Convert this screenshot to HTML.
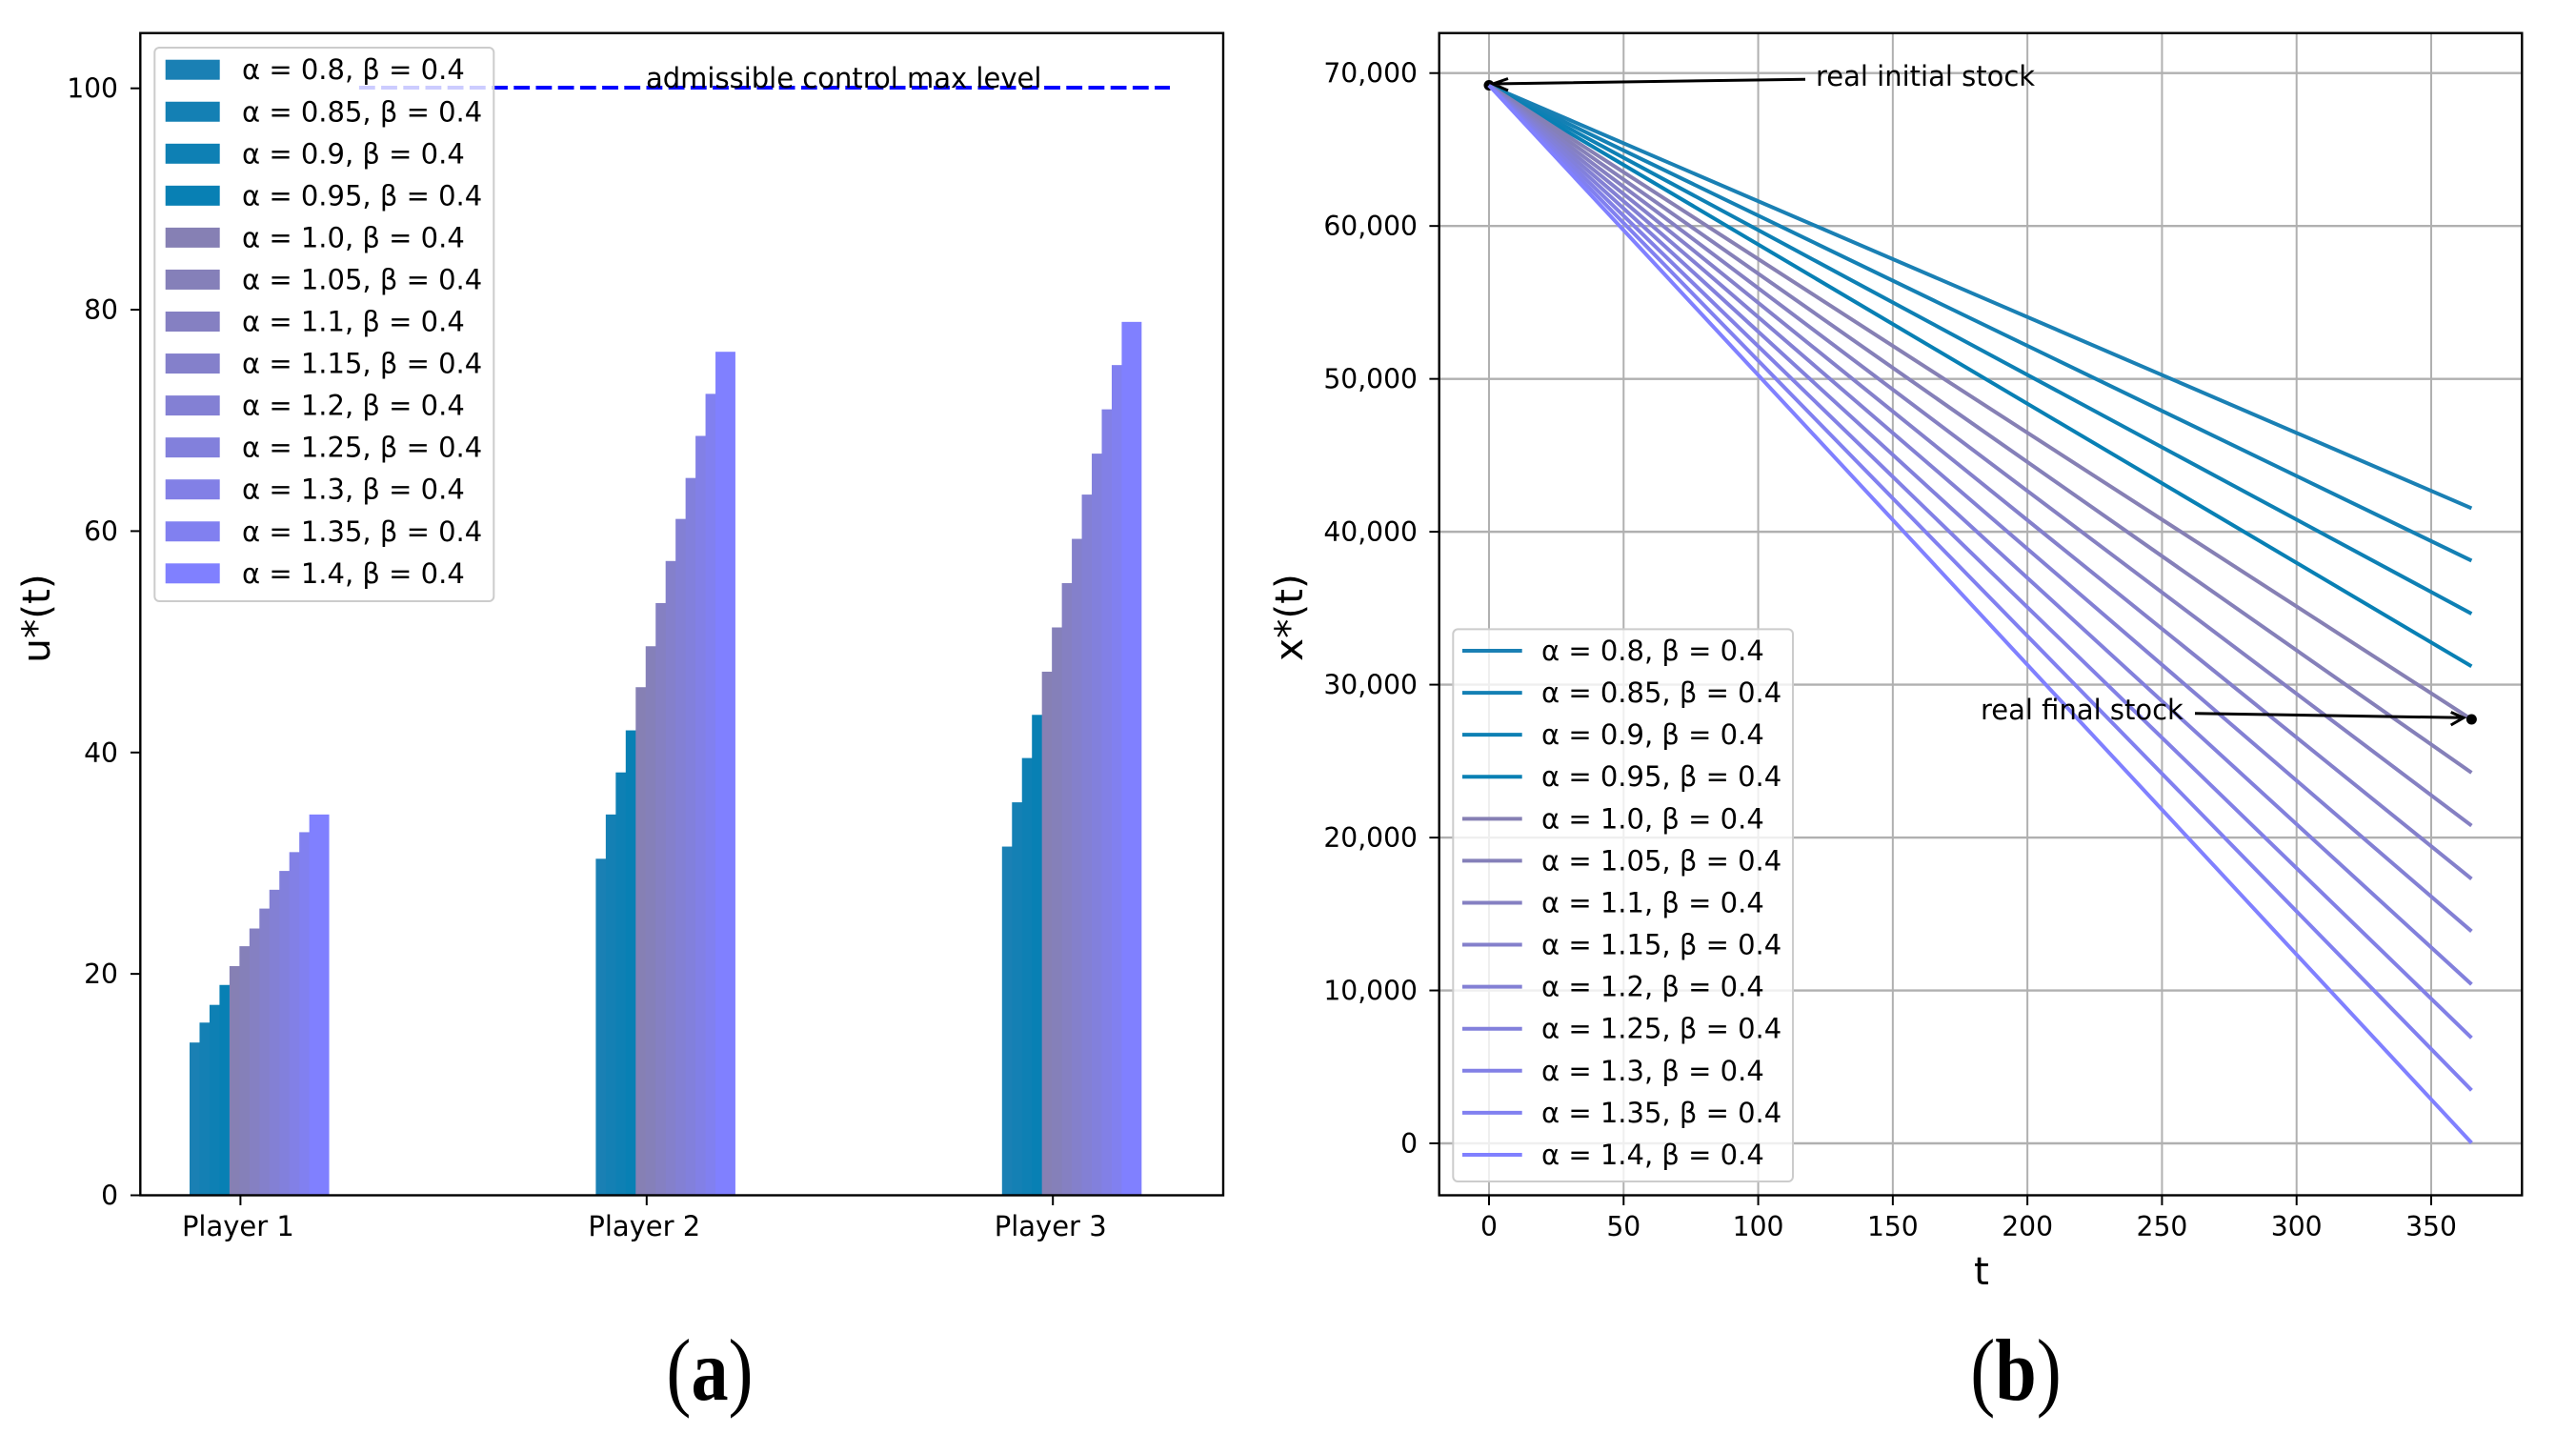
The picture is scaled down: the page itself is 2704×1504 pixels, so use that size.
<!DOCTYPE html>
<html lang="en">
<head>
<meta charset="utf-8">
<title>Optimal control and stock charts</title>
<style>
html,body{margin:0;padding:0;background:#fff;width:2704px;height:1504px;overflow:hidden}
svg{display:block}
text{font-family:"DejaVu Sans","Liberation Sans",sans-serif;fill:#000}
text.cap{font-family:"Liberation Serif",serif;font-size:92px}
</style>
</head>
<body>
<svg id="figure" xmlns="http://www.w3.org/2000/svg" width="2704" height="1504" viewBox="0 0 2704 1504">
  <g id="panel-a"></g>
  <g id="panel-b"></g>
  <text class="cap" transform="translate(745 1469) scale(.85 1)" text-anchor="middle">(<tspan font-weight="bold">a</tspan>)</text>
  <text class="cap" transform="translate(2116 1469) scale(.85 1)" text-anchor="middle">(<tspan font-weight="bold">b</tspan>)</text>
</svg>
<script>
// ---- shared data ----
const alphaLabels = ["0.8","0.85","0.9","0.95","1.0","1.05","1.1","1.15","1.2","1.25","1.3","1.35","1.4"];
const seriesColors = ["#1a80b4","#1480b4","#0e80b4","#0880b4","#8680b4","#8580b9","#8580c2","#8480cb","#8380d4","#8280dc","#8280e6","#8180f0","#8080ff"];

// ---- panel (a) data ----
const players = ["Player 1","Player 2","Player 3"];
const player1Values = [13.8,15.6,17.2,19.0,20.7,22.5,24.1,25.9,27.6,29.3,31.0,32.8,34.4];
const player2Values = [30.4,34.4,38.2,42.0,45.9,49.6,53.5,57.3,61.1,64.8,68.6,72.4,76.2];
const player3Values = [31.5,35.5,39.5,43.4,47.3,51.3,55.3,59.3,63.3,67.0,71.0,75.0,78.9];
const controlTickValues = [0,20,40,60,80,100];
const controlTickLabels = ["0","20","40","60","80","100"];
const maxLevel = [100];
const maxLevelRange = [0.292,2.288];

// ---- panel (b) data ----
const timeEnds = [0,365];
const stockInitial = [69200,69200,69200,69200,69200,69200,69200,69200,69200,69200,69200,69200,69200];
const stockFinal = [41540,38110,34640,31200,27730,24240,20780,17300,13870,10400,6900,3470,30];
const timeTickValues = [0,50,100,150,200,250,300,350];
const timeTickLabels = ["0","50","100","150","200","250","300","350"];
const stockTickValues = [0,10000,20000,30000,40000,50000,60000,70000];
const stockTickLabels = ["0","10,000","20,000","30,000","40,000","50,000","60,000","70,000"];
const realInitialPoint = [0,69200];
const realFinalPoint = [365,27730];

// ---- axis functions ----
const yU = v => 1254.5 - v * 11.618;
const xP = i => 252.4 + i * 426.4;
const xT = t => 1563 + t * 2.8257;
const yS = v => 1200 - v * 0.016047;

const NS = "http://www.w3.org/2000/svg";
function el(tag, attrs, parent, txt) {
  const e = document.createElementNS(NS, tag);
  for (const k in attrs) e.setAttribute(k, attrs[k]);
  if (txt !== undefined) e.textContent = txt;
  parent.appendChild(e);
  return e;
}
const LABEL_SIZE = 29;
const NUM_SIZE = 28.2;
const TITLE_SIZE = 40.5;
const pa = document.getElementById("panel-a");
const pb = document.getElementById("panel-b");

// ---- panel (a) ----
const BAR_STEP = 10.47, BAR_W = 20.9, BAR_OFFSET = 53.4;
const barGroups = [player1Values, player2Values, player3Values];
barGroups.forEach((vals, g) => {
  vals.forEach((v, i) => {
    const r = el("rect", {x: xP(g) - BAR_OFFSET + i * BAR_STEP, y: yU(v), width: BAR_W, height: yU(0) - yU(v), fill: seriesColors[i]}, pa);
    
    
  });
});

const maxLine = el("line", {x1: xP(maxLevelRange[0]), x2: xP(maxLevelRange[1]), y1: yU(maxLevel[0]) - 0.7, y2: yU(maxLevel[0]) - 0.7, stroke: "#0000ff", "stroke-width": 4, "stroke-dasharray": "16.8 6.4"}, pa);



const maxLabel = el("text", {x: 678, y: 92, "font-size": LABEL_SIZE}, pa, "admissible control max level");



const frameA = el("rect", {x: 147.3, y: 34.7, width: 1136.7, height: 1219.8, fill: "none", stroke: "#000", "stroke-width": 2.4}, pa);



controlTickValues.forEach((v, i) => {
  const t = el("line", {x1: 137, x2: 147.3, y1: yU(v), y2: yU(v), stroke: "#000", "stroke-width": 2}, pa);
  
  
  const l = el("text", {x: 124, y: yU(v) + 10, "text-anchor": "end", "font-size": NUM_SIZE}, pa, controlTickLabels[i]);
  
  
});
players.forEach((p, i) => {
  const t = el("line", {x1: xP(i), x2: xP(i), y1: 1254.5, y2: 1265, stroke: "#000", "stroke-width": 2}, pa);
  
  
  const l = el("text", {x: xP(i) - 2.5, y: 1297, "text-anchor": "middle", "font-size": LABEL_SIZE}, pa, p);
  
  
});
const yTitleA = el("text", {x: 0, y: 0, "text-anchor": "middle", "font-size": TITLE_SIZE, transform: "translate(52 649) rotate(-90)"}, pa, "u*(t)");



const legendA = el("g", {}, pa);


el("rect", {x: 162.3, y: 50, width: 356, height: 581, rx: 5, fill: "#fff", "fill-opacity": 0.8, stroke: "#cccccc", "stroke-width": 2}, legendA);
alphaLabels.forEach((a, i) => {
  const cy = 73.2 + i * 44.05;
  const swatch = el("rect", {x: 173.7, y: cy - 10.5, width: 57, height: 21, fill: seriesColors[i]}, legendA);
  
  
  const lab = el("text", {x: 254, y: cy + 10, "font-size": LABEL_SIZE}, legendA, "α = " + a + ", β = 0.4");
  
  
});

// ---- panel (b) ----
timeTickValues.forEach((t) => {
  const g = el("line", {x1: xT(t), x2: xT(t), y1: 34.7, y2: 1254.5, stroke: "#b0b0b0", "stroke-width": 2}, pb);
  
  
});
stockTickValues.forEach((v) => {
  const g = el("line", {x1: 1510.7, x2: 2647.3, y1: yS(v), y2: yS(v), stroke: "#b0b0b0", "stroke-width": 2.4}, pb);
  
  
});

const startDot = el("circle", {cx: xT(realInitialPoint[0]), cy: yS(realInitialPoint[1]), r: 5.5, fill: "#000"}, pb);



alphaLabels.forEach((a, i) => {
  const ln = el("line", {x1: xT(timeEnds[0]), y1: yS(stockInitial[i]), x2: xT(timeEnds[1]), y2: yS(stockFinal[i]), stroke: seriesColors[i], "stroke-width": 4}, pb);
  
  
});

const endDot = el("circle", {cx: xT(realFinalPoint[0]), cy: yS(realFinalPoint[1]), r: 5.5, fill: "#000"}, pb);



const arrow1 = el("path", {d: "M1895 83.2L1567 88M1583 82.5L1567 88L1583 95", fill: "none", stroke: "#000", "stroke-width": 3}, pb);


const arrow2 = el("path", {d: "M2304 748.7L2586 753.3M2572.7 747.5L2586 753.3L2572.7 761", fill: "none", stroke: "#000", "stroke-width": 3}, pb);


const note1 = el("text", {x: 1906, y: 90, "font-size": LABEL_SIZE}, pb, "real initial stock");


const note2 = el("text", {x: 2079, y: 755, "font-size": LABEL_SIZE}, pb, "real final stock");



const frameB = el("rect", {x: 1510.7, y: 34.7, width: 1136.6, height: 1219.8, fill: "none", stroke: "#000", "stroke-width": 2.4}, pb);



timeTickValues.forEach((t, i) => {
  const k = el("line", {x1: xT(t), x2: xT(t), y1: 1254.5, y2: 1265, stroke: "#000", "stroke-width": 2}, pb);
  
  
  const l = el("text", {x: xT(t), y: 1297, "text-anchor": "middle", "font-size": NUM_SIZE}, pb, timeTickLabels[i]);
  
  
});
stockTickValues.forEach((v, i) => {
  const k = el("line", {x1: 1500.4, x2: 1510.7, y1: yS(v), y2: yS(v), stroke: "#000", "stroke-width": 2}, pb);
  
  
  const l = el("text", {x: 1488, y: yS(v) + 10, "text-anchor": "end", "font-size": NUM_SIZE}, pb, stockTickLabels[i]);
  
  
});
const xTitleB = el("text", {x: 2080, y: 1348, "text-anchor": "middle", "font-size": TITLE_SIZE}, pb, "t");


const yTitleB = el("text", {x: 0, y: 0, "text-anchor": "middle", "font-size": TITLE_SIZE, transform: "translate(1367 648) rotate(-90)"}, pb, "x*(t)");



const legendB = el("g", {}, pb);


el("rect", {x: 1525.3, y: 660.4, width: 356.7, height: 579.6, rx: 5, fill: "#fff", "fill-opacity": 0.8, stroke: "#cccccc", "stroke-width": 2}, legendB);
alphaLabels.forEach((a, i) => {
  const cy = 683 + i * 44.08;
  const handle = el("line", {x1: 1535, x2: 1597.7, y1: cy, y2: cy, stroke: seriesColors[i], "stroke-width": 4}, legendB);
  
  
  const lab = el("text", {x: 1618, y: cy + 10, "font-size": LABEL_SIZE}, legendB, "α = " + a + ", β = 0.4");
  
  
});
</script>
</body>
</html>
